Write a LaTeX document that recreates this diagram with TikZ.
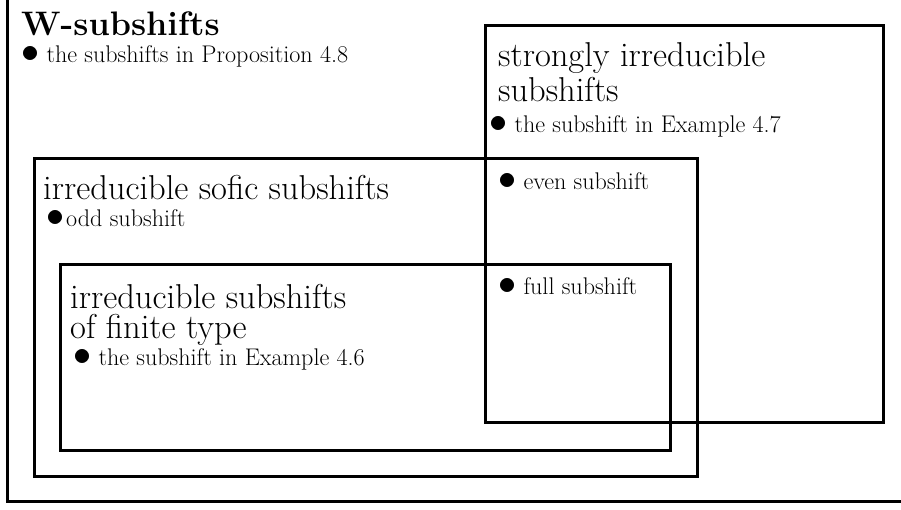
\documentclass[tikz,border=0pt]{standalone}
\usepackage{fontspec}
\usepackage{graphicx}
\newcommand{\bigtext}{\fontsize{34.5}{40}\selectfont}
\newcommand{\boldtext}{\fontsize{34}{40}\selectfont\bfseries}
\newcommand{\smalltext}{\fontsize{24.1}{29}\selectfont}
\newcommand{\bul}{\smash{\raisebox{-0.5pt}{\scalebox{1.45}{$\bullet$}}}}
\begin{document}
\begin{tikzpicture}[x=1pt,y=-1pt,
  frame/.style={line width=3pt,line join=miter},
  title/.style={anchor=base west,inner sep=0pt,font=\bigtext},
  item/.style={anchor=base west,inner sep=0pt,font=\smalltext}]
\useasboundingbox (0,0) rectangle (901,509);
% outer (clipped) W-subshifts frame
\draw[frame] (7.5,0) |- (901,501.5);
% strongly irreducible
\draw[frame] (485,25) rectangle (883,422);
% irreducible sofic
\draw[frame] (34,158) rectangle (697,476);
% irreducible SFT
\draw[frame] (60,264) rectangle (670,450);
% texts
\node[title,font=\boldtext] (w) at (21,35) {W-subshifts};
\node[item] (wi) at (21,62) {\bul{} the subshifts in Proposition 4.8};
\node[title] (s1) at (498,66) {strongly irreducible};
\node[title] (s2) at (498,101) {subshifts};
\node[item] (si) at (489,132) {\bul{} the subshift in Example 4.7};
\node[title] (f1) at (43,199) {irreducible sofic subshifts};
\node[item] (fi) at (46,226) {\bul\hspace{2pt}odd subshift};
\node[item] (ev) at (498,189) {\bul{} even subshift};
\node[item] (fu) at (498,294) {\bul{} full subshift};
\node[title] (t1) at (70,308) {irreducible subshifts};
\node[title] (t2) at (70,338) {of finite type};
\node[item] (ti) at (73,365) {\bul{} the subshift in Example 4.6};
\end{tikzpicture}
\end{document}
